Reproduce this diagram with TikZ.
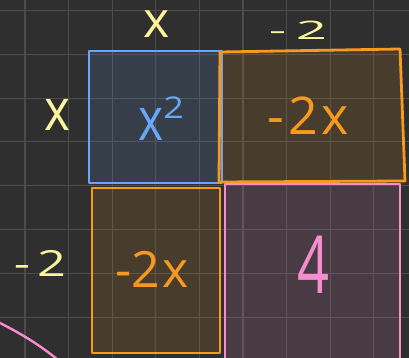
\documentclass[tikz,border=0pt]{standalone}
\usepackage{fontspec}
\setmainfont{Open Sans}

\definecolor{boardbg}{HTML}{2F2F2F}
\definecolor{boardgrid}{HTML}{4C4C4C}
\definecolor{chalk}{HTML}{FDF49E}
\definecolor{sqblue}{HTML}{6AA6F8}
\definecolor{rectorange}{HTML}{F7991F}
\definecolor{unitpink}{HTML}{F78CCF}

\tikzset{
  gridline/.style={draw=boardgrid, line width=1.1pt},
  tile/.style={line width=2.8pt, line join=round, fill opacity=0.13},
  side/.style={text=chalk, inner sep=0pt},
  term/.style={inner sep=0pt}
}

\begin{document}
\begin{tikzpicture}[x=1pt, y=-1pt]
        % fond et grille
        \useasboundingbox (0,0) rectangle (409,358);
        \clip (0,0) rectangle (409,358);
        \fill[boardbg] (0,0) rectangle (409,358);
        \foreach \gx in {25,68.6,...,400} \draw[gridline] (\gx,0) -- (\gx,358);
        \foreach \gy in {10.5,54.3,...,358} \draw[gridline] (0,\gy) -- (409,\gy);

        % tessere
        \draw[tile, draw=sqblue, fill=sqblue] (89,51) rectangle (222,183);
        \draw[tile, draw=rectorange, fill=rectorange] (220,52) -- (400,49) -- (405,181) -- (219,182) -- cycle;
        \draw[tile, draw=rectorange, fill=rectorange] (92,188) rectangle (220,353);
        \draw[tile, draw=unitpink, fill=unitpink] (225,184) rectangle (400,364);
        \draw[unitpink, line width=2.4pt] (-2,322) .. controls (20,333) and (40,345) .. (58,360);

        % lati
        \node[side, font=\fontsize{50}{50}\selectfont] (topx) at (157,24) {x};
        \node[side, font=\fontsize{34}{34}\selectfont] (topm) at (298,30) {\scalebox{1.6}[0.75]{-\hspace{6pt}2}};
        \node[side, font=\fontsize{58}{58}\selectfont] (leftx) at (57,115) {\scalebox{0.85}[1]{x}};
        \node[side, font=\fontsize{36}{36}\selectfont] (leftm) at (40,263) {\scalebox{1.4}[1]{-\hspace{5pt}2}};

        % aree
        \node[term, text=sqblue, font=\fontsize{60}{60}\selectfont] (xsq) at (161,119)
          {\scalebox{0.8}[1]{x}\raisebox{22pt}{\fontsize{30}{30}\selectfont\scalebox{1.2}[1]{2}}};
        \node[term, text=rectorange, font=\fontsize{52}{52}\selectfont] (topterm) at (308,116) {-\hspace{5pt}2\hspace{3pt}x};
        \node[term, text=rectorange, font=\fontsize{50}{50}\selectfont] (botterm) at (152,269) {-2\hspace{2pt}x};
        \node[term, text=unitpink, font=\fontsize{80}{80}\selectfont] (unit) at (314,265) {\scalebox{0.7}[1]{4}};
\end{tikzpicture}
\end{document}
